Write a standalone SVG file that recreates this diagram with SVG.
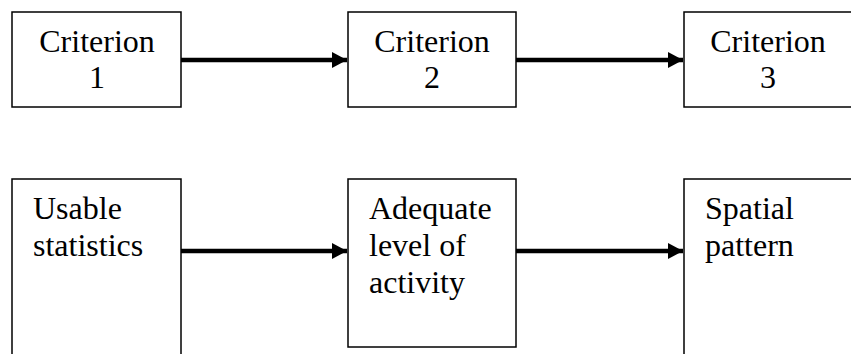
<svg xmlns="http://www.w3.org/2000/svg" width="851" height="354" viewBox="0 0 851 354">
<style>
.box{fill:#fff;stroke:#000;stroke-width:1.5}
.t{font-size:32px;fill:#000}
.c{text-anchor:middle}
.conn{stroke:#000;stroke-width:4.5;fill:none}
</style>
<defs>
<marker id="ah" markerUnits="userSpaceOnUse" markerWidth="16" markerHeight="16" refX="15" refY="8" orient="auto" viewBox="0 0 16 16">
<path d="M0,0 L15,8 L0,16 Z" fill="#000"/>
</marker>
</defs>
<rect width="851" height="354" fill="#fff"/>
<g font-family="Liberation Serif, DejaVu Serif, serif">
<g id="n1">
<rect class="box" x="12" y="12" width="169" height="95"/>
<text class="t c" x="97" y="52">Criterion</text>
<text class="t c" x="97" y="88">1</text>
</g>
<g id="n2">
<rect class="box" x="348" y="12" width="168" height="95"/>
<text class="t c" x="432" y="52">Criterion</text>
<text class="t c" x="432" y="88">2</text>
</g>
<g id="n3">
<rect class="box" x="684" y="12" width="180" height="95"/>
<text class="t c" x="768" y="52">Criterion</text>
<text class="t c" x="768" y="88">3</text>
</g>
<g id="n4">
<rect class="box" x="12" y="179" width="169" height="190"/>
<text class="t" x="33" y="219">Usable</text>
<text class="t" x="33" y="256">statistics</text>
</g>
<g id="n5">
<rect class="box" x="348" y="179" width="168" height="168"/>
<text class="t" x="369" y="219">Adequate</text>
<text class="t" x="369" y="256">level of</text>
<text class="t" x="369" y="293">activity</text>
</g>
<g id="n6">
<rect class="box" x="684" y="179" width="180" height="190"/>
<text class="t" x="705" y="219">Spatial</text>
<text class="t" x="705" y="256">pattern</text>
</g>
</g>
<g id="connectors">
<line class="conn" x1="181" y1="60" x2="347" y2="60" marker-end="url(#ah)"/>
<line class="conn" x1="516" y1="60" x2="683" y2="60" marker-end="url(#ah)"/>
<line class="conn" x1="181" y1="251" x2="347" y2="251" marker-end="url(#ah)"/>
<line class="conn" x1="516" y1="251" x2="683" y2="251" marker-end="url(#ah)"/>
</g>
</svg>
